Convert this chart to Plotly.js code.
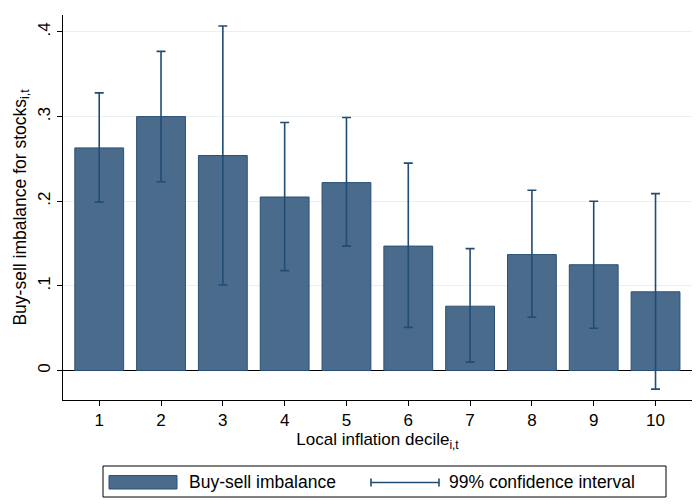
<!DOCTYPE html>
<html>
<head>
<meta charset="utf-8">
<script src="https://cdn.plot.ly/plotly-3.0.1.min.js"></script>
<style>html,body{margin:0;padding:0;background:#fff;}#chart{width:700px;height:504px;}</style>
</head>
<body>
<div id="chart"></div>
<script>
// Data
const deciles = [1, 2, 3, 4, 5, 6, 7, 8, 9, 10];
const imbalance = [0.263, 0.300, 0.254, 0.205, 0.222, 0.147, 0.076, 0.137, 0.125, 0.093];
const ciHigh = [0.328, 0.377, 0.407, 0.293, 0.299, 0.245, 0.144, 0.213, 0.200, 0.209];
const ciLow  = [0.199, 0.223, 0.101, 0.118, 0.147, 0.051, 0.010, 0.063, 0.050, -0.022];
const yTickVals = [0, 0.1, 0.2, 0.3, 0.4];
const yTickText = ["0", ".1", ".2", ".3", ".4"];
const seriesName = "Buy-sell imbalance";
const ciName = "99% confidence interval";

const barFill = "#4a6b8c";
const barLine = "#2b5176";
const errColor = "#214c74";
const FONT = "Liberation Sans, Arial, sans-serif";

const W = 700, H = 504, PL = 63, PR = 692, PT = 15, PB = 400;
const fx = p => (p - PL) / (PR - PL);
const fy = p => (PB - p) / (PB - PT);

const trace = {
  type: "bar",
  x: deciles,
  y: imbalance,
  width: 0.79,
  marker: {color: barFill, line: {color: barLine, width: 1}},
  error_y: {
    type: "data", symmetric: false,
    array: imbalance.map((v, i) => ciHigh[i] - v),
    arrayminus: imbalance.map((v, i) => v - ciLow[i]),
    color: errColor, thickness: 1.6, width: 4.5
  },
  showlegend: false,
  hoverinfo: "skip"
};

const shapes = [
  {type: "rect", xref: "paper", yref: "paper", x0: fx(103), x1: fx(666), y0: fy(466), y1: fy(497),
   line: {color: "#000", width: 1}, fillcolor: "#fff"},
  {type: "rect", xref: "paper", yref: "paper", x0: fx(109), x1: fx(177), y0: fy(475.5), y1: fy(489),
   line: {color: barLine, width: 1}, fillcolor: barFill},
  {type: "line", xref: "paper", yref: "paper", x0: fx(371), x1: fx(439), y0: fy(482.5), y1: fy(482.5),
   line: {color: errColor, width: 1.6}},
  {type: "line", xref: "paper", yref: "paper", x0: fx(371), x1: fx(371), y0: fy(478.5), y1: fy(486.5),
   line: {color: errColor, width: 1.6}},
  {type: "line", xref: "paper", yref: "paper", x0: fx(439), x1: fx(439), y0: fy(478.5), y1: fy(486.5),
   line: {color: errColor, width: 1.6}}
];

const annotations = [
  {xref: "paper", yref: "paper", x: fx(187), y: fy(482), xanchor: "left", yanchor: "middle",
   text: seriesName, showarrow: false, font: {family: FONT, size: 17.5, color: "#000"}},
  {xref: "paper", yref: "paper", x: fx(447), y: fy(482), xanchor: "left", yanchor: "middle",
   text: ciName, showarrow: false, font: {family: FONT, size: 17.5, color: "#000"}}
];

const layout = {
  width: W, height: H,
  margin: {l: PL, r: W - PR, t: PT, b: H - PB},
  paper_bgcolor: "#fff", plot_bgcolor: "#fff",
  font: {family: FONT, size: 17, color: "#000"},
  showlegend: false,
  xaxis: {
    range: [0.414, 10.59],
    tickvals: deciles,
    ticktext: deciles.map(String),
    ticks: "outside", ticklen: 5, tickwidth: 1, tickcolor: "#000",
    showline: true, linecolor: "#000", linewidth: 1,
    showgrid: false, zeroline: false,
    tickfont: {family: FONT, size: 17, color: "#000"},
    title: {text: "Local inflation decile<sub>i,t</sub>", standoff: 0,
            font: {family: FONT, size: 17, color: "#000"}}
  },
  yaxis: {
    range: [-0.0348, 0.420],
    tickvals: yTickVals,
    ticktext: yTickText,
    tickangle: -90,
    ticks: "outside", ticklen: 5, tickwidth: 1, tickcolor: "#000",
    showline: true, linecolor: "#000", linewidth: 1,
    showgrid: true, gridcolor: "#e8f0f2", gridwidth: 1,
    zeroline: true, zerolinecolor: "#000", zerolinewidth: 1,
    tickfont: {family: FONT, size: 17, color: "#000"},
    title: {text: "Buy-sell imbalance for stocks<sub>i,t</sub>", standoff: 4,
            font: {family: FONT, size: 17.5, color: "#000"}}
  },
  shapes: shapes,
  annotations: annotations
};

Plotly.newPlot("chart", [trace], layout, {displayModeBar: false, staticPlot: true});
</script>
</body>
</html>
